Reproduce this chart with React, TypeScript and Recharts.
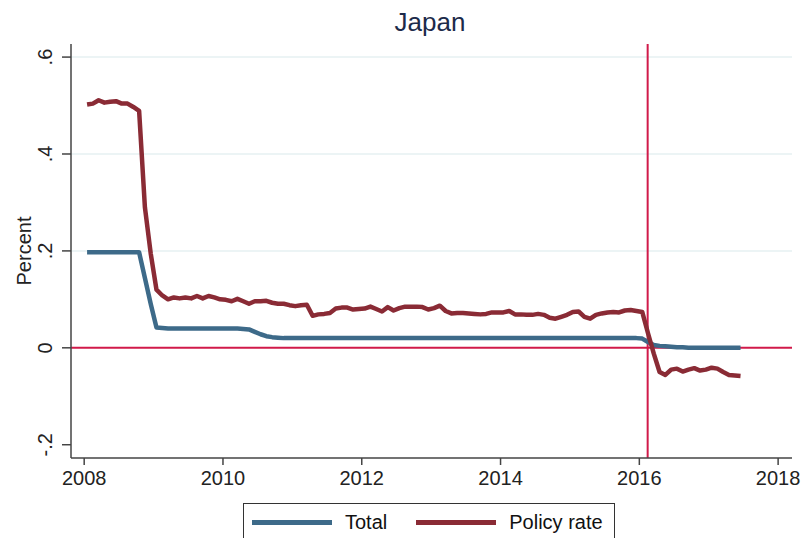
import { LineChart, Line, XAxis, YAxis, CartesianGrid, ReferenceLine } from 'recharts'

// monthly observations, one row per year (Jan..Dec), 2017 ends in June
const YEARS = [2008, 2009, 2010, 2011, 2012, 2013, 2014, 2015, 2016, 2017]

const TOTAL = [
  [0.197, 0.197, 0.197, 0.197, 0.197, 0.197, 0.197, 0.197, 0.197, 0.197, 0.144, 0.091],
  [0.042, 0.041, 0.04, 0.04, 0.04, 0.04, 0.04, 0.04, 0.04, 0.04, 0.04, 0.04],
  [0.04, 0.04, 0.04, 0.039, 0.038, 0.033, 0.028, 0.024, 0.022, 0.021, 0.02, 0.02],
  [0.02, 0.02, 0.02, 0.02, 0.02, 0.02, 0.02, 0.02, 0.02, 0.02, 0.02, 0.02],
  [0.02, 0.02, 0.02, 0.02, 0.02, 0.02, 0.02, 0.02, 0.02, 0.02, 0.02, 0.02],
  [0.02, 0.02, 0.02, 0.02, 0.02, 0.02, 0.02, 0.02, 0.02, 0.02, 0.02, 0.02],
  [0.02, 0.02, 0.02, 0.02, 0.02, 0.02, 0.02, 0.02, 0.02, 0.02, 0.02, 0.02],
  [0.02, 0.02, 0.02, 0.02, 0.02, 0.02, 0.02, 0.02, 0.02, 0.02, 0.02, 0.02],
  [0.019, 0.012, 0.006, 0.004, 0.003, 0.002, 0.001, 0.001, 0.0, 0.0, 0.0, 0.0],
  [0.0, 0.0, 0.0, 0.0, 0.0, 0.0],
]

const POLICY_RATE = [
  [0.502, 0.504, 0.511, 0.506, 0.508, 0.509, 0.504, 0.504, 0.497, 0.489, 0.29, 0.195],
  [0.12, 0.108, 0.1, 0.104, 0.102, 0.104, 0.102, 0.107, 0.102, 0.107, 0.104, 0.1],
  [0.099, 0.096, 0.101, 0.096, 0.091, 0.096, 0.096, 0.097, 0.093, 0.091, 0.091, 0.088],
  [0.086, 0.088, 0.089, 0.066, 0.069, 0.07, 0.072, 0.081, 0.083, 0.083, 0.079, 0.08],
  [0.081, 0.085, 0.08, 0.075, 0.084, 0.077, 0.082, 0.085, 0.085, 0.085, 0.084, 0.079],
  [0.082, 0.087, 0.076, 0.071, 0.072, 0.072, 0.071, 0.07, 0.069, 0.07, 0.073, 0.073],
  [0.073, 0.076, 0.069, 0.069, 0.068, 0.068, 0.07, 0.068, 0.062, 0.06, 0.064, 0.068],
  [0.074, 0.075, 0.064, 0.06, 0.068, 0.071, 0.073, 0.074, 0.073, 0.077, 0.078, 0.076],
  [0.074, 0.03, -0.012, -0.05, -0.056, -0.045, -0.043, -0.049, -0.045, -0.042, -0.047, -0.045],
  [-0.041, -0.043, -0.05, -0.056, -0.057, -0.058],
]

const X_TICKS = [2008, 2010, 2012, 2014, 2016, 2018]
const Y_TICKS = [-0.2, 0, 0.2, 0.4, 0.6]
const GRID_VALUES = [0.2, 0.4, 0.6]
const NIRP_DATE = 2016.12 // negative rate introduced

const SERIES = [
  { key: 'total', name: 'Total', color: '#3d6a89' },
  { key: 'policy', name: 'Policy rate', color: '#8a2b35' },
]

const FONT = 'Arial, "Liberation Sans", sans-serif'
const REF_RED = '#d11a4a'
const AXIS = '#444'

const data = YEARS.flatMap((yr, i) =>
  TOTAL[i].map((v, m) => ({
    t: yr + (m + 0.5) / 12,
    total: v,
    policy: POLICY_RATE[i][m],
  })),
)

// stata style labels: .6 / -.2
const fmtY = (v: number) => (v === 0 ? '0' : String(v).replace('0.', '.'))

function YTick({ x, y, payload }: any) {
  return (
    <text x={x} y={y} transform={`rotate(-90, ${x}, ${y})`} textAnchor="middle" fontSize={20} fill="#222" fontFamily={FONT}>
      {fmtY(payload.value)}
    </text>
  )
}

function PercentLabel({ viewBox }: any) {
  const cy = viewBox.y + viewBox.height / 2
  return (
    <text x={31} y={cy} transform={`rotate(-90, 31, ${cy})`} textAnchor="middle" fontSize={20} fill="#222" fontFamily={FONT}>
      Percent
    </text>
  )
}

export default function App() {
  return (
    <div style={{ position: 'relative', width: 802, height: 538, overflow: 'hidden', background: '#fff', fontFamily: FONT }}>
      <style>{'body{margin:0}'}</style>
      <div
        style={{ position: 'absolute', left: 71, width: 718, top: 7, textAlign: 'center', fontSize: 26, lineHeight: '30px', color: '#1c2a4a' }}
      >
        Japan
      </div>

      <LineChart width={802} height={538} data={data} margin={{ top: 44, right: 10, bottom: 0, left: 0 }}>
        <CartesianGrid vertical={false} horizontalValues={GRID_VALUES} stroke="#e6f0f2" strokeWidth={1.5} />
        <XAxis
          type="number"
          dataKey="t"
          domain={[2007.81, 2018.2]}
          ticks={X_TICKS}
          allowDataOverflow
          height={80}
          tickSize={7}
          tickMargin={6}
          stroke={AXIS}
          strokeWidth={1.5}
          tick={{ fontSize: 20, fill: '#222', fontFamily: FONT }}
        />
        <YAxis
          type="number"
          domain={[-0.2274, 0.627]}
          ticks={Y_TICKS}
          allowDataOverflow
          width={71}
          tickSize={9}
          tickMargin={10}
          stroke={AXIS}
          strokeWidth={1.5}
          tick={<YTick />}
          label={<PercentLabel />}
        />
        <ReferenceLine y={0} stroke={REF_RED} strokeWidth={2} />
        <ReferenceLine x={NIRP_DATE} stroke={REF_RED} strokeWidth={2} />
        {SERIES.map((s) => (
          <Line
            key={s.key}
            dataKey={s.key}
            name={s.name}
            type="linear"
            stroke={s.color}
            strokeWidth={4.5}
            strokeLinejoin="round"
            dot={false}
            activeDot={false}
            isAnimationActive={false}
          />
        ))}
      </LineChart>

      {/* legend box, cut off by the bottom edge like the original */}
      <div
        style={{
          position: 'absolute',
          left: 243,
          top: 503,
          width: 372,
          height: 44,
          border: '1.5px solid #333',
          background: '#fff',
          display: 'flex',
          alignItems: 'flex-start',
          paddingLeft: 8,
          boxSizing: 'border-box',
        }}
      >
        {SERIES.map((s, i) => (
          <div key={s.key} style={{ display: 'flex', alignItems: 'center', height: 36, marginLeft: i ? 29 : 0 }}>
            <span style={{ width: 80, height: 5, background: s.color, marginRight: 13 }} />
            <span style={{ fontSize: 20, color: '#111' }}>{s.name}</span>
          </div>
        ))}
      </div>
    </div>
  )
}
